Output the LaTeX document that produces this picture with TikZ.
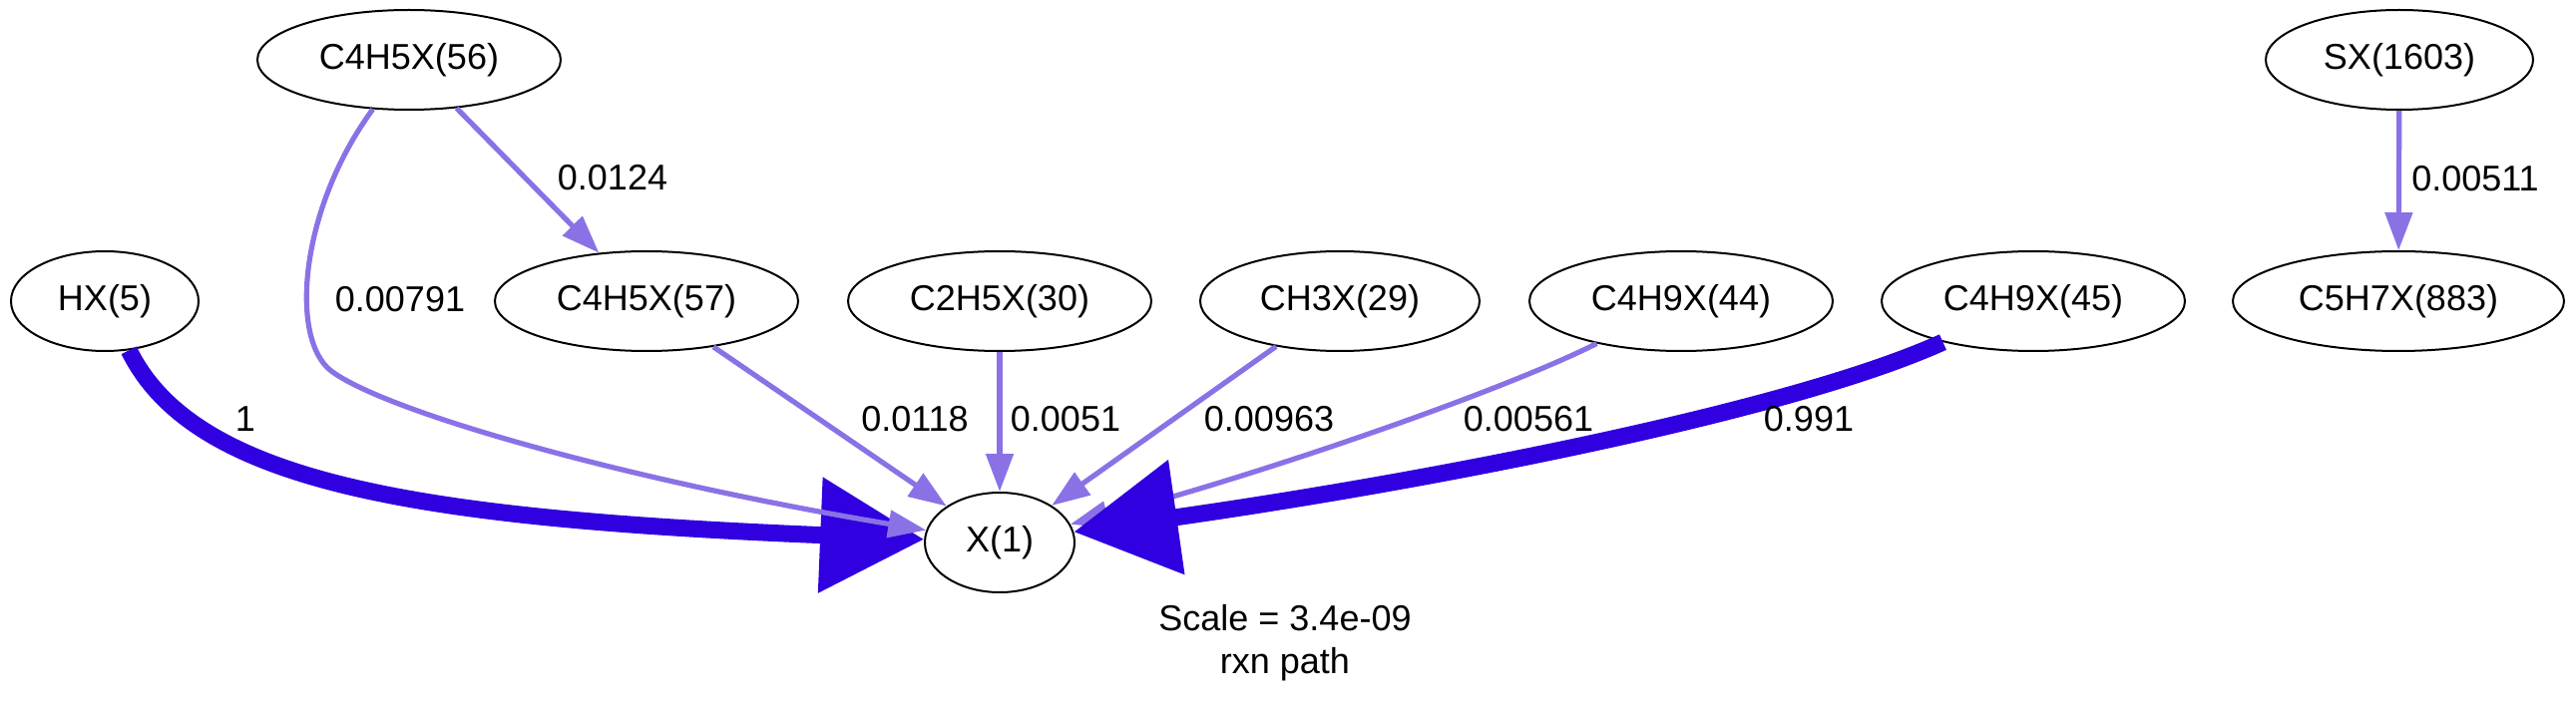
\documentclass[tikz,border=0pt]{standalone}
\usepackage{fontspec}
\setmainfont{Liberation Sans}
\usetikzlibrary{arrows.meta,shapes.geometric}
\definecolor{fluxlight}{RGB}{138,114,230}
\definecolor{fluxdark}{RGB}{48,0,224}
\tikzset{
	spec/.style={ellipse, draw, line width=1pt, minimum height=50pt, inner sep=0pt},
	weak/.style={draw=fluxlight, line width=2.6pt, -{Triangle[length=19pt,width=13.5pt]}},
	strong/.style={draw=fluxdark, line width=8.5pt, -{Triangle[length=52pt,width=56pt]}},
}
\begin{document}
\begin{tikzpicture}[x=0.5pt, y=-0.5pt, every node/.style={font=\fontsize{18}{21.5}\selectfont}]
	\useasboundingbox (0,0) rectangle (2582,711);
	% species
	\node[spec, minimum width=152pt] (c56) at (410,60) {C4H5X(56)};
	\node[spec, minimum width=134pt] (sx) at (2405,60) {SX(1603)};
	\node[spec, minimum width=94pt] (hx) at (105,302) {HX(5)};
	\node[spec, minimum width=152pt] (c57) at (648,302) {C4H5X(57)};
	\node[spec, minimum width=152pt] (c30) at (1002,302) {C2H5X(30)};
	\node[spec, minimum width=140pt] (c29) at (1343,302) {CH3X(29)};
	\node[spec, minimum width=152pt] (c44) at (1685,302) {C4H9X(44)};
	\node[spec, minimum width=152pt] (c45) at (2038,302) {C4H9X(45)};
	\node[spec, minimum width=166pt] (c883) at (2404,302) {C5H7X(883)};
	\node[spec, minimum width=75pt] (x1) at (1002,544) {X(1)};
	% fluxes
	\draw[strong] (hx) .. controls (195,485) and (420,520) .. (x1);
	\draw[weak] (c56) .. controls (300,210) and (290,340) .. (332,372) .. controls (385,412) and (620,480) .. (x1);
	\draw[weak] (c56) -- (c57);
	\draw[weak] (c57) -- (x1);
	\draw[weak] (c30) -- (x1);
	\draw[weak] (c29) -- (x1);
	\draw[weak] (c44) .. controls (1500,395) and (1250,480) .. (x1);
	\draw[strong] (c45) .. controls (1800,410) and (1450,480) .. (x1);
	\draw[weak] (sx) -- (c883);
	% flux values
	\node (f1) at (614,178) {0.0124};
	\node (f2) at (401,300) {0.00791};
	\node (f3) at (246,420) {1};
	\node (f4) at (917,420) {0.0118};
	\node (f5) at (1068,420) {0.0051};
	\node (f6) at (1272,420) {0.00963};
	\node (f7) at (1532,420) {0.00561};
	\node (f8) at (1813,420) {0.991};
	\node (f9) at (2481,179) {0.00511};
	\node[align=center] (scale) at (1288,645) {Scale = 3.4e-09\\rxn path};
\end{tikzpicture}
\end{document}
